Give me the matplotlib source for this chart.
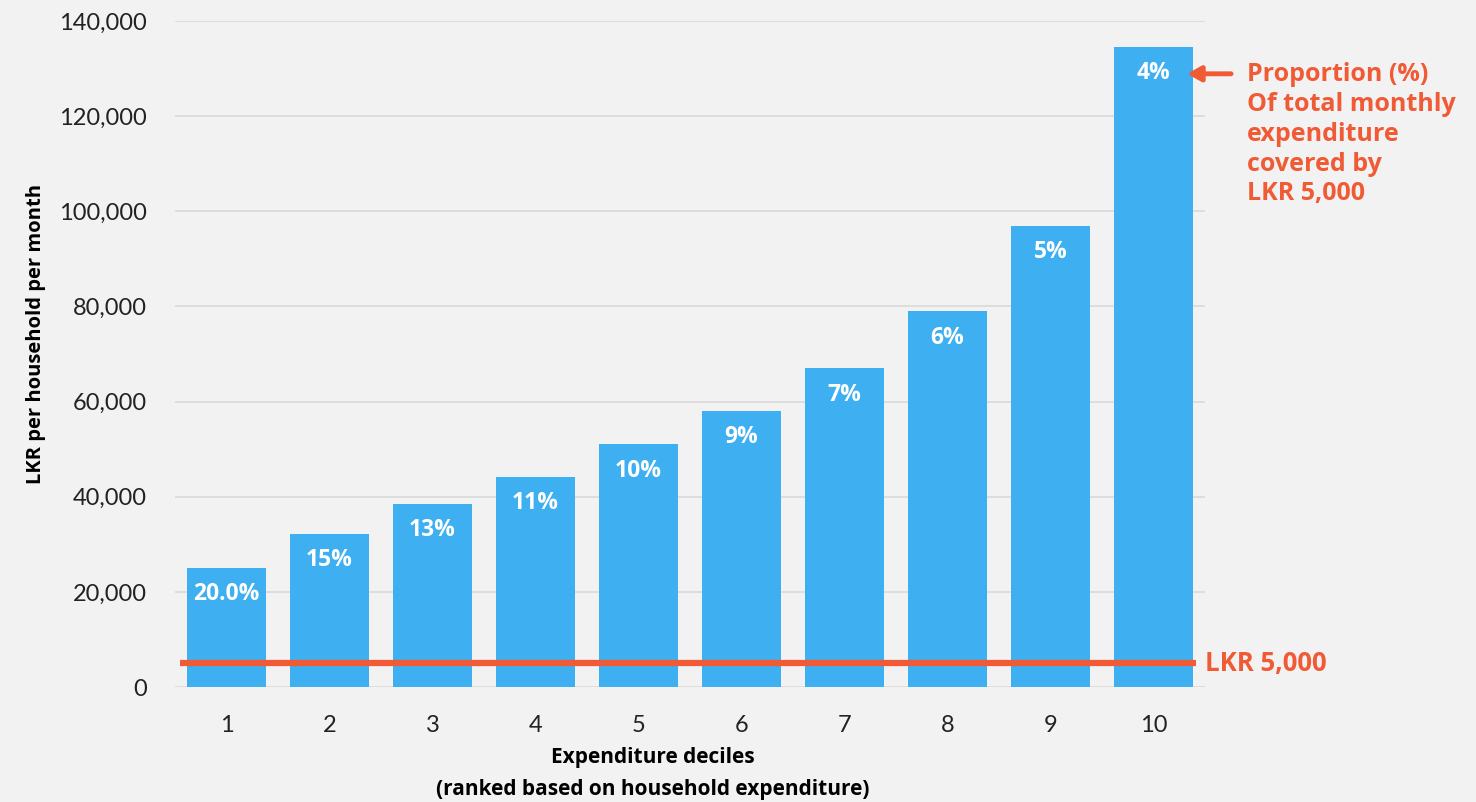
import matplotlib.pyplot as plt
from matplotlib.ticker import FuncFormatter

# monthly expenditure per household by decile (LKR)
deciles = [1, 2, 3, 4, 5, 6, 7, 8, 9, 10]
spend = [25000, 32200, 38500, 44200, 51000, 58000, 67000, 79000, 97000, 134600]
share_labels = ["20.0%", "15%", "13%", "11%", "10%", "9%", "7%", "6%", "5%", "4%"]
transfer = 5000

bg = "#f2f2f2"
blue = "#3eaff0"
red = "#f05a35"

fig = plt.figure(figsize=(14.76, 8.02), dpi=100, facecolor=bg)
ax = fig.add_axes([175 / 1476, 115 / 802, 1030 / 1476, 666 / 802])
ax.set_facecolor(bg)

ax.bar(deciles, spend, width=0.76, color=blue, zorder=2)

for x, v, lab in zip(deciles, spend, share_labels):
    ax.annotate(lab, (x, v), xytext=(0, -19), textcoords="offset points",
                ha="center", va="center", color="white", fontsize=16.5,
                fontweight="bold", family="Open Sans", zorder=4)

# the LKR 5,000 transfer level
ax.hlines(transfer, 0.55, 10.41, color=red, lw=4.5, zorder=3)
ax.text(10.5, transfer, "LKR 5,000", color=red, fontsize=18.5, fontweight="bold",
        family="Open Sans", va="center", ha="left")

ax.annotate("", xy=(10.3, 128900), xytext=(10.78, 128900),
            arrowprops=dict(arrowstyle="-|>,head_length=0.8,head_width=0.45",
                            color=red, lw=3.5))
ax.text(10.91, 131300, "Proportion (%)\nOf total monthly\nexpenditure\ncovered by\nLKR 5,000",
        color=red, fontsize=18, fontweight="bold", family="Open Sans",
        va="top", ha="left", linespacing=1.25)

ax.set_xlim(0.5, 10.5)
ax.set_ylim(0, 140000)
ax.set_yticks(range(0, 140001, 20000))
ax.set_xticks(deciles)
ax.yaxis.set_major_formatter(FuncFormatter(lambda v, p: f"{int(v):,}"))
ax.grid(axis="y", color="#d9d9d9", lw=1.2, zorder=0)
for s in ax.spines.values():
    s.set_visible(False)
ax.tick_params(length=0, labelsize=17, colors="#222222")
ax.tick_params(axis="x", pad=20)
ax.tick_params(axis="y", pad=20)
for t in ax.get_xticklabels() + ax.get_yticklabels():
    t.set_family("Lato")

ax.set_ylabel("LKR per household per month", fontsize=14.5, fontweight="bold",
              family="Open Sans")
ax.yaxis.set_label_coords(-129 / 1030, 0.53)
fig.text(653 / 1476, 1 - 757 / 802, "Expenditure deciles", ha="center", va="center",
         fontsize=15, fontweight="bold", family="Open Sans")
fig.text(653 / 1476, 1 - 789 / 802, "(ranked based on household expenditure)",
         ha="center", va="center", fontsize=15, fontweight="bold", family="Open Sans")

fig.savefig("out.png", dpi=100, facecolor=bg)
